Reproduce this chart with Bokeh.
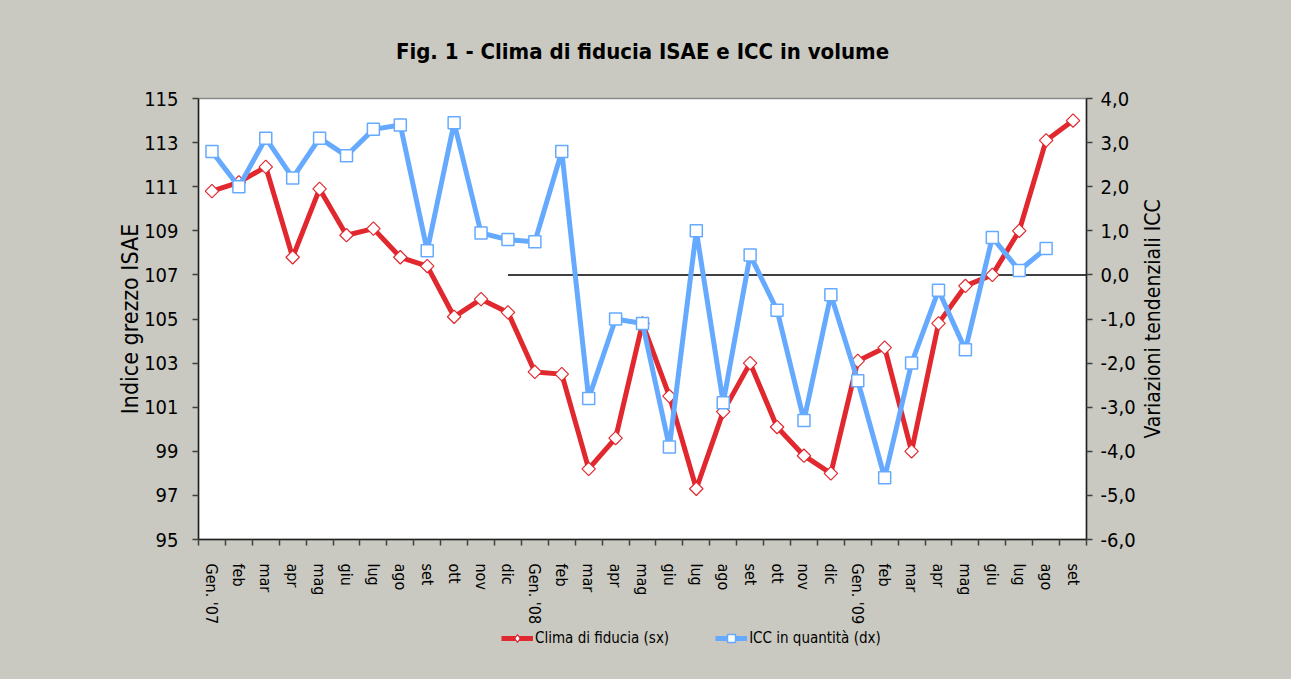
import numpy as np
from bokeh.plotting import figure
from bokeh.layouts import column, row
from bokeh.models import (Range1d, LinearAxis, FixedTicker, CustomJSTickFormatter,
                          Legend, LegendItem)
from bokeh.embed import file_html
from bokeh.resources import INLINE

# ---- data ----
months = ["Gen. '07", "feb", "mar", "apr", "mag", "giu", "lug", "ago", "set", "ott", "nov", "dic",
          "Gen. '08", "feb", "mar", "apr", "mag", "giu", "lug", "ago", "set", "ott", "nov", "dic",
          "Gen. '09", "feb", "mar", "apr", "mag", "giu", "lug", "ago", "set"]
clima = [110.8, 111.2, 111.9, 107.8, 110.9, 108.8, 109.1, 107.8, 107.4, 105.1, 105.9, 105.3,
         102.6, 102.5, 98.2, 99.6, 104.8, 101.5, 97.3, 100.8, 103.0, 100.1, 98.8, 98.0,
         103.1, 103.7, 99.0, 104.8, 106.5, 107.0, 109.0, 113.1, 114.0]
icc = [2.8, 2.0, 3.1, 2.2, 3.1, 2.7, 3.3, 3.4, 0.55, 3.45, 0.95, 0.8,
       0.75, 2.8, -2.8, -1.0, -1.1, -3.9, 1.0, -2.9, 0.45, -0.8, -3.3, -0.45,
       -2.4, -4.6, -2.0, -0.35, -1.7, 0.85, 0.1, 0.6]
left_ticks = [95, 97, 99, 101, 103, 105, 107, 109, 111, 113, 115]
right_ticks = [-6, -5, -4, -3, -2, -1, 0, 1, 2, 3, 4]
zero_start_month = 11  # "dic '07"
title_text = "Fig. 1 - Clima di fiducia ISAE e ICC in volume"
left_label = "Indice grezzo ISAE"
right_label = "Variazioni tendenziali ICC"
legend_labels = ["Clima di fiducia (sx)", "ICC in quantità (dx)"]

FONT = "DejaVu Sans Condensed"
BG = "#C9C9C1"
RED = "#E0282E"
BLUE = "#66AAFF"

n = len(months)
xc = [i + 0.5 for i in range(n)]

W = 1291
W_MAIN = 1138
H_MAIN = 627
H_LEG = 52
TOP, BOTTOM, LEFT, RIGHT = 98, 78, 198, 51

p = figure(width=W_MAIN, height=H_MAIN, output_backend="svg", toolbar_location=None,
           x_range=Range1d(0, n), y_range=Range1d(95, 115),
           min_border_left=LEFT, min_border_right=RIGHT, min_border_top=TOP,
           min_border_bottom=BOTTOM)
p.background_fill_color = "white"
p.border_fill_color = BG
p.outline_line_color = "#8A8A8A"
p.outline_line_width = 1.5
p.grid.visible = False

p.title.text = title_text
p.title.align = "center"
p.title.text_font = FONT
p.title.text_font_size = "22px"
p.title.text_font_style = "bold"
p.title.text_color = "black"
p.title.standoff = 70

# x axis
xa = p.xaxis[0]
xa.ticker = FixedTicker(ticks=xc, minor_ticks=list(range(n + 1)))
xa.formatter = CustomJSTickFormatter(args=dict(labels=months),
                                     code="return labels[Math.floor(tick)];")
xa.major_label_orientation = "vertical"
xa.major_tick_out = 0
xa.major_tick_in = 0
xa.minor_tick_out = 6
xa.minor_tick_in = 0
xa.minor_tick_line_color = "#404040"
xa.minor_tick_line_width = 1.5
xa.axis_line_color = "#202020"
xa.axis_line_width = 1.5
xa.major_label_standoff = 18
xa.major_label_text_font = FONT
xa.major_label_text_font_size = "16px"
xa.major_label_text_color = "black"

# left axis
ya = p.yaxis[0]
ya.ticker = FixedTicker(ticks=left_ticks)
ya.minor_tick_line_color = None
ya.major_tick_out = 6
ya.major_tick_in = 0
ya.major_tick_line_color = "#404040"
ya.major_tick_line_width = 1.5
ya.axis_line_color = "#202020"
ya.axis_line_width = 1.5
ya.major_label_standoff = 14
ya.major_label_text_font = FONT
ya.major_label_text_font_size = "20px"
ya.major_label_text_color = "black"
ya.axis_label = left_label
ya.axis_label_text_font = FONT
ya.axis_label_text_font_size = "23px"
ya.axis_label_text_font_style = "normal"
ya.axis_label_text_color = "black"
ya.axis_label_standoff = -2

# right axis (label drawn in a narrow strip to its right)
p.extra_y_ranges = {"icc": Range1d(-6, 4)}
ra = LinearAxis(y_range_name="icc")
ra.ticker = FixedTicker(ticks=right_ticks)
ra.formatter = CustomJSTickFormatter(code="return tick.toFixed(1).replace('.', ',');")
ra.minor_tick_line_color = None
ra.major_tick_out = 6
ra.major_tick_in = 0
ra.major_tick_line_color = "#404040"
ra.major_tick_line_width = 1.5
ra.axis_line_color = "#202020"
ra.axis_line_width = 1.5
ra.major_label_standoff = 8
ra.major_label_text_font = FONT
ra.major_label_text_font_size = "20px"
ra.major_label_text_color = "black"
p.add_layout(ra, "right")

# zero line (right axis)
p.line(x=[zero_start_month + 0.5, n], y=[0, 0], y_range_name="icc",
       line_color="black", line_width=1.5)

# series
p.line(xc, clima, line_color=RED, line_width=5)
p.scatter(xc, clima, marker="square", angle=np.pi / 4, size=9.5,
          fill_color="white", line_color=RED, line_width=1.2)
p.line(xc[:len(icc)], icc, y_range_name="icc", line_color=BLUE, line_width=5)
p.scatter(xc[:len(icc)], icc, y_range_name="icc", marker="square", size=12,
          fill_color="white", line_color=BLUE, line_width=1.5)

# narrow strip carrying the right axis title (reads bottom to top)
r = figure(width=W - W_MAIN, height=H_MAIN, output_backend="svg", toolbar_location=None,
           x_axis_type=None, y_axis_type=None, title_location="left",
           min_border_left=0, min_border_right=0, min_border_top=TOP,
           min_border_bottom=BOTTOM, x_range=Range1d(0, 1), y_range=Range1d(0, 1))
r.background_fill_alpha = 0
r.border_fill_color = BG
r.outline_line_color = None
r.grid.visible = False
r.title.text = right_label
r.title.align = "center"
r.title.text_font = FONT
r.title.text_font_size = "21px"
r.title.text_font_style = "normal"
r.title.text_color = "black"
r.title.standoff = 0

# legend strip below the chart
q = figure(width=W, height=H_LEG, output_backend="svg", toolbar_location=None,
           x_axis_type=None, y_axis_type=None,
           min_border_left=LEFT, min_border_right=W - W_MAIN + RIGHT,
           min_border_top=0, min_border_bottom=0,
           x_range=Range1d(0, n), y_range=Range1d(0, 1))
q.background_fill_alpha = 0
q.border_fill_color = BG
q.outline_line_color = None
q.grid.visible = False
# same series, outside the strip's visible range: only their legend swatches show
lr_line = q.line(xc, clima, line_color=RED, line_width=5)
lr_mark = q.scatter(xc, clima, marker="diamond", size=13,
                    fill_color="white", line_color=RED, line_width=1.2)
lb_line = q.line(xc[:len(icc)], [v + 10 for v in icc], line_color=BLUE, line_width=5)
lb_mark = q.scatter(xc[:len(icc)], [v + 10 for v in icc], marker="square", size=12,
                    fill_color="white", line_color=BLUE, line_width=1.5)
legend = Legend(items=[LegendItem(label=legend_labels[0], renderers=[lr_line, lr_mark]),
                       LegendItem(label=legend_labels[1], renderers=[lb_line, lb_mark])],
                location=(501 - LEFT, 31), orientation="horizontal",
                glyph_width=32, glyph_height=20, label_height=20, label_standoff=2,
                spacing=46, padding=0, margin=0,
                border_line_color=None, background_fill_alpha=0,
                label_text_font=FONT, label_text_font_size="15px", label_text_color="black")
q.add_layout(legend, "center")

layout = column(row(p, r, spacing=0), q, spacing=0)
layout.styles = {"background-color": BG}
open("out.html", "w").write(file_html(layout, INLINE))
